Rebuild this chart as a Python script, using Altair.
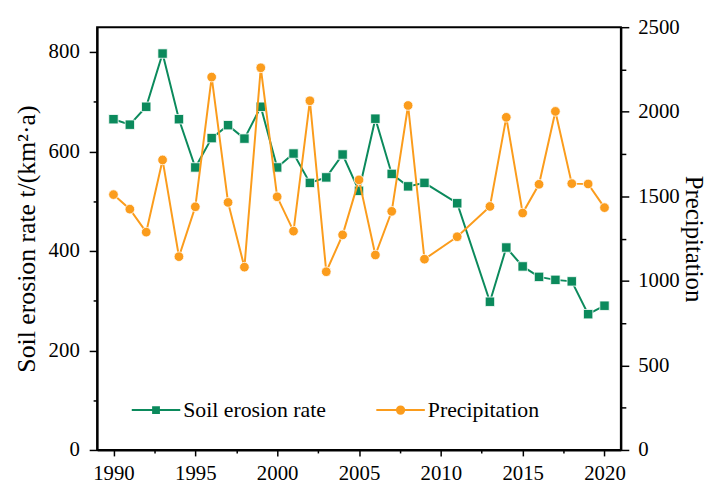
import altair as alt
import pandas as pd

# ---- data ----
years = [1990, 1991, 1992, 1993, 1994, 1995, 1996, 1997, 1998, 1999,
         2000, 2001, 2002, 2003, 2004, 2005, 2006, 2007, 2008, 2009,
         2011, 2013, 2014, 2015, 2016, 2017, 2018, 2019, 2020]
erosion = [665, 654, 690, 797, 665, 568, 627, 653, 626, 690,
           568, 596, 537, 548, 594, 521, 666, 555, 530, 537,
           496, 298, 407, 369, 348, 342, 339, 273, 290]
precip = [1510, 1424, 1288, 1715, 1143, 1438, 2205, 1464, 1081, 2260,
          1497, 1294, 2065, 1054, 1272, 1597, 1153, 1411, 2037, 1128,
          1261, 1440, 1967, 1401, 1571, 2002, 1575, 1573, 1433]
series_names = ["Soil erosion rate", "Precipitation"]
x_ticks = [1990 + 2.5 * i for i in range(13)]
left_ticks = list(range(0, 801, 100))
right_ticks = list(range(0, 2501, 250))

GREEN = "#0b8a5c"
ORANGE = "#fb9c1c"
FONT = "Liberation Serif"
SQ_PATH = "M-1,0H1M-0.12,-0.12H0.12V0.12H-0.12Z"
CI_PATH = "M-1,0H1M-0.15,0A0.15,0.15 0 1,0 0.15,0A0.15,0.15 0 1,0 -0.15,0Z"

df = pd.DataFrame({"year": years, "erosion": erosion, "precip": precip})
legend_df = pd.DataFrame({"series": series_names})

SOLID = [40, 0]
AX = dict(labelFont=FONT, titleFont=FONT, labelFontSize=21,
          titleFontWeight="normal", labelColor="black", titleColor="black",
          tickColor="black", domainColor="black", domainWidth=2, tickWidth=1.5,
          grid=False, labelOverlap=False, labelFlush=False, format="d")

x_enc = alt.X(
    "year:Q",
    scale=alt.Scale(domain=[1989, 2021], nice=False, zero=False),
    axis=alt.Axis(
        values=x_ticks, title=None,
        labelExpr="datum.value % 5 === 0 ? datum.label : ''",
        tickSize=6, labelPadding=7,
        tickDash={"condition": {"test": "datum.value % 5 !== 0", "value": [3, 50]}, "value": SOLID},
        **AX,
    ),
)

y_left = alt.Y(
    "erosion:Q",
    scale=alt.Scale(domain=[0, 850], nice=False),
    axis=alt.Axis(
        orient="left", values=left_ticks,
        labelExpr="datum.value % 200 === 0 ? datum.label : ''",
        tickSize=8, labelPadding=10,
        tickDash={"condition": {"test": "datum.value % 200 !== 0", "value": [4, 50]}, "value": SOLID},
        title="Soil erosion rate t/(km²·a)", titlePadding=9, titleFontSize=26,
        **AX,
    ),
)

y_right = alt.Y(
    "precip:Q",
    scale=alt.Scale(domain=[0, 2500], nice=False),
    axis=alt.Axis(
        orient="right", values=right_ticks,
        labelExpr="datum.value % 500 === 0 ? datum.label : ''",
        tickSize=8, labelPadding=9,
        tickDash={"condition": {"test": "datum.value % 500 !== 0", "value": [5, 50]}, "value": SOLID},
        title="Precipitation", titlePadding=1, titleFontSize=25,
        **AX,
    ),
)

base = alt.Chart(df)

green_line = base.mark_line(color=GREEN, strokeWidth=2).encode(x=x_enc, y=y_left)
green_pts = base.mark_point(shape="square", filled=True, size=90, color=GREEN,
                            stroke="white", strokeWidth=0.8, opacity=1).encode(x=x_enc, y=y_left)
orange_line = base.mark_line(color=ORANGE, strokeWidth=2).encode(x=x_enc, y=y_right)
orange_pts = base.mark_point(shape="circle", filled=True, size=95, color=ORANGE,
                             stroke="white", strokeWidth=0.8, opacity=1).encode(x=x_enc, y=y_right)

leg = alt.Legend(
    title=None, orient="none", legendX=34, legendY=361, direction="horizontal",
    symbolSize=2401, symbolStrokeWidth=2, labelFont=FONT, labelFontSize=22,
    labelColor="black", labelOffset=2, columnPadding=46, padding=0,
)
legend_layer = alt.Chart(legend_df).transform_filter("false").mark_point(filled=True, opacity=1).encode(
    fill=alt.Fill("series:N", scale=alt.Scale(domain=series_names, range=[GREEN, ORANGE]), legend=leg),
    stroke=alt.Stroke("series:N", scale=alt.Scale(domain=series_names, range=[GREEN, ORANGE]), legend=leg),
    shape=alt.Shape("series:N", scale=alt.Scale(domain=series_names, range=[SQ_PATH, CI_PATH]), legend=leg),
)

left = alt.layer(green_line, green_pts)
right = alt.layer(orange_line, orange_pts)

chart = (
    alt.layer(left, right, legend_layer)
    .resolve_scale(y="independent")
    .properties(
        width=529, height=427,
        autosize=alt.AutoSizeParams(type="none"),
        padding={"left": 90, "top": 17, "right": 88, "bottom": 33},
    )
    .configure_view(stroke="black", strokeWidth=2)
)

chart.save("out.html", embed_options={"renderer": "svg", "actions": False})
